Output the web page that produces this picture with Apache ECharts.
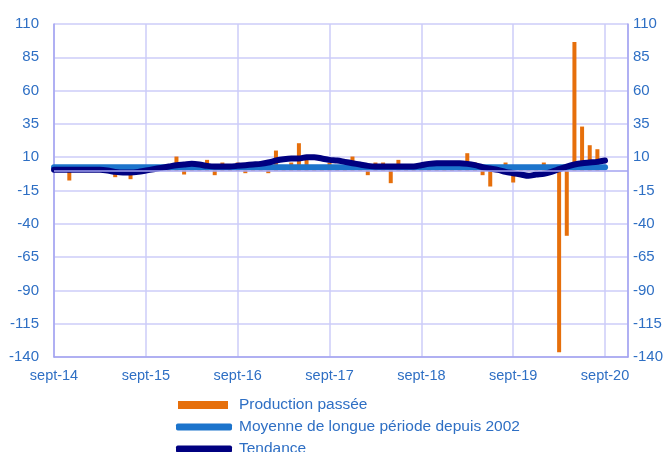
<!DOCTYPE html>
<html>
<head>
<meta charset="utf-8">
<script src="https://cdn.jsdelivr.net/npm/echarts@6/dist/echarts.min.js"></script>
<style>
  html, body { margin: 0; padding: 0; background: #fff; }
  #chart { width: 669px; height: 452px; }
</style>
</head>
<body>
<div id="chart"></div>
<script>
// mois depuis sept-14 (0 = sept-14)
const yearLabels = ['sept-14', 'sept-15', 'sept-16', 'sept-17', 'sept-18', 'sept-19', 'sept-20']
const yTicks = [-140, 110, 25]   // min, max, pas

// Production passée (barres, mensuel de sept-14 à août-20)
const production = [
  1, 1, -7.5, 1, 2, 1, 1, 2, -5, 1, -6.5, 2,
  1, 2, 1, 2, 10.5, -3, 2, 2, 8, -3.5, 6, 2,
  6, -2, 2, 1, -2, 15, 2, 6, 20.5, 8, 4, 2,
  6, 2, 2, 10.5, 1, -3.5, 6, 6, -9.5, 8, 2, 2,
  1, 2, 2, 2, 2, 2, 13, 6, -3.5, -12, 1, 6,
  -9, 2, 1, 2, 6, 1, -136.5, -49, 96.5, 33, 19, 16
]

// Tendance (sept-14 à sept-20)
const tendance = [
  0.5, 0.5, 0.5, 0.5, 0.5, 0.5, 0.5, 0, -1, -1.5, -1.5, -1,
  0, 1, 2, 3, 4, 4.5, 5, 4.5, 3.5, 3, 3, 3,
  3.5, 4, 4.5, 5, 6, 7.5, 8.5, 9, 9, 10, 10, 9,
  8, 7.5, 6.5, 5.5, 4.5, 3.5, 3, 3, 3, 3, 3, 3,
  4, 5, 5.5, 5.5, 5.5, 5.5, 5, 4, 2.5, 1.5, 0.5, -1,
  -2, -3, -4, -3, -2.5, -1, 1, 3, 4.5, 5.5, 6, 6.5,
  7.5
]

// Moyenne de longue période depuis 2002
const moyenne = 2.5

const labelColor = '#2e6fc4'
const gridColor = '#ccccf8'
const axisColor = '#a3a3f0'

// une légende par ligne, comme dans le graphique d'origine
const legendNames = ['Production passée', 'Moyenne de longue période depuis 2002', 'Tendance']

let mychart = echarts.init(document.getElementById('chart'))

let option = {
  animation: false,
  textStyle: { fontFamily: 'Liberation Sans, Arial, sans-serif' },
  grid: { left: 54, right: 41, top: 24, bottom: 95, containLabel: false },
  legend: [
    {
      left: 178, top: 397, padding: 0,
      itemWidth: 50, itemHeight: 8,
      textStyle: { color: labelColor, fontSize: 15.5, padding: [0, 0, 0, 6] },
      data: [{ name: legendNames[0], icon: 'rect' }]
    },
    {
      left: 176, top: 419, padding: 0,
      itemWidth: 56, itemHeight: 7,
      textStyle: { color: labelColor, fontSize: 15.5, padding: [0, 0, 0, 2] },
      data: [{ name: legendNames[1], icon: 'roundRect' }]
    },
    {
      left: 176, top: 441, padding: 0,
      itemWidth: 56, itemHeight: 7,
      textStyle: { color: labelColor, fontSize: 15.5, padding: [0, 0, 0, 2] },
      data: [{ name: legendNames[2], icon: 'roundRect' }]
    }
  ],
  xAxis: {
    type: 'value',
    min: 0,
    max: 75,
    interval: 12,
    axisLine: { show: true, onZero: false, lineStyle: { color: axisColor, width: 1.5 } },
    axisTick: { show: false },
    splitLine: { show: true, lineStyle: { color: gridColor, width: 1.5 } },
    axisLabel: {
      color: labelColor,
      fontSize: 14.5,
      margin: 11,
      showMaxLabel: false,
      formatter: function (v) {
        if (v % 12 !== 0) return ''
        return yearLabels[v / 12] || ''
      }
    }
  },
  yAxis: [
    {
      type: 'value',
      min: yTicks[0],
      max: yTicks[1],
      interval: yTicks[2],
      axisLine: { show: true, lineStyle: { color: axisColor, width: 1.5 } },
      axisTick: { show: false },
      splitLine: { lineStyle: { color: gridColor, width: 1.5 } },
      axisLabel: { color: labelColor, fontSize: 15, margin: 15 }
    },
    {
      type: 'value',
      position: 'right',
      min: yTicks[0],
      max: yTicks[1],
      interval: yTicks[2],
      axisLine: { show: true, lineStyle: { color: axisColor, width: 1.5 } },
      axisTick: { show: false },
      splitLine: { show: false },
      axisLabel: { color: labelColor, fontSize: 15, margin: 5 }
    }
  ],
  series: [
    {
      name: 'Production passée',
      type: 'bar',
      barWidth: 4,
      itemStyle: { color: '#e66f0b' },
      data: production.map((v, i) => [i, v]),
      // ligne du zéro
      markLine: {
        silent: true,
        symbol: ['none', 'none'],
        label: { show: false },
        lineStyle: { color: axisColor, width: 1.5, type: 'solid' },
        emphasis: { disabled: true },
        data: [{ yAxis: 0 }]
      }
    },
    {
      name: 'Moyenne de longue période depuis 2002',
      type: 'line',
      showSymbol: false,
      itemStyle: { color: '#1c74cc' },
      lineStyle: { color: '#1c74cc', width: 6, cap: 'round' },
      data: [[0, moyenne], [tendance.length - 1, moyenne]]
    },
    {
      name: 'Tendance',
      type: 'line',
      showSymbol: false,
      smooth: 0.3,
      itemStyle: { color: '#000080' },
      lineStyle: { color: '#000080', width: 6, cap: 'round' },
      data: tendance.map((v, i) => [i, v])
    }
  ]
}

mychart.setOption(option)
</script>
</body>
</html>
